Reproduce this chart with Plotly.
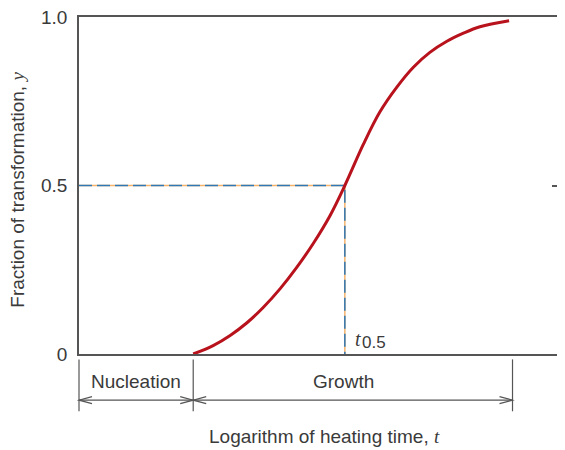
import plotly.graph_objects as go

# log heating time (arbitrary units) vs fraction transformed
log_t = [2.35, 2.76, 3.11, 3.45, 3.79, 4.14, 4.48, 4.82, 5.17, 5.47,
         5.85, 6.19, 6.54, 6.88, 7.22, 7.57, 7.91, 8.25, 8.85]
frac_y = [0.0, 0.025, 0.055, 0.092, 0.138, 0.194, 0.257, 0.328, 0.412, 0.5,
          0.622, 0.718, 0.792, 0.851, 0.895, 0.928, 0.952, 0.971, 0.989]

t_half = 5.47
nucleation_end = 2.35
growth_end = 8.92
x_max = 10.0

y_ticks = [0, 0.5, 1.0]
y_ticktext = ["0", "0.5", "1.0"]

FONT = "Liberation Sans"
SERIF = "Liberation Serif"
TXT = "#3a3a3a"
LINE = "#555555"
FS = 19

fig = go.Figure()

# guide lines to t0.5 (orange under blue dashes)
guide_x = [0, t_half, t_half]
guide_y = [0.5, 0.5, 0]
fig.add_trace(go.Scatter(x=guide_x, y=guide_y, mode="lines",
                         line=dict(color="#f6b36b", width=1.5),
                         hoverinfo="skip", showlegend=False))
fig.add_trace(go.Scatter(x=guide_x, y=guide_y, mode="lines",
                         line=dict(color="#2f78b4", width=1.5, dash="13px,5px"),
                         hoverinfo="skip", showlegend=False))

# transformation curve
fig.add_trace(go.Scatter(x=log_t, y=frac_y, mode="lines",
                         line=dict(color="#b8121c", width=3, shape="spline"),
                         showlegend=False))

# invisible trace for right-side tick axis
fig.add_trace(go.Scatter(x=[None], y=[None], yaxis="y2", showlegend=False))

# vertical marks below the axis
for xv in [0, nucleation_end, growth_end]:
    fig.add_shape(type="line", xref="paper", yref="paper",
                  x0=xv / x_max, x1=xv / x_max, y0=-0.016, y1=-0.17,
                  line=dict(color=LINE, width=1.2))

# double-headed arrows for the phases
arrow_y = -0.137
for a, b in [(0, nucleation_end), (nucleation_end, growth_end)]:
    fig.add_shape(type="line", xref="paper", yref="paper",
                  x0=a / x_max, x1=b / x_max, y0=arrow_y, y1=arrow_y,
                  line=dict(color=LINE, width=1.2))
    # open chevron heads
    fig.add_shape(type="path", xref="paper", yref="paper",
                  xsizemode="pixel", ysizemode="pixel",
                  xanchor=a / x_max, yanchor=arrow_y,
                  path="M 13,3.5 L 0,0 L 13,-3.5",
                  line=dict(color=LINE, width=1.2))
    fig.add_shape(type="path", xref="paper", yref="paper",
                  xsizemode="pixel", ysizemode="pixel",
                  xanchor=b / x_max, yanchor=arrow_y,
                  path="M -13,3.5 L 0,0 L -13,-3.5",
                  line=dict(color=LINE, width=1.2))

fig.add_annotation(x=nucleation_end / 2, y=-0.081, xref="x", yref="paper",
                   xanchor="center", yanchor="middle",
                   text="Nucleation", showarrow=False,
                   font=dict(family=FONT, size=FS, color=TXT))
fig.add_annotation(x=t_half - 0.02, y=-0.081, xref="x", yref="paper",
                   xanchor="center", yanchor="middle",
                   text="Growth", showarrow=False,
                   font=dict(family=FONT, size=FS, color=TXT))

# t0.5 label
fig.add_annotation(x=t_half + 0.28, y=0.046, xref="x", yref="y",
                   xanchor="center", yanchor="middle", showarrow=False,
                   text="<i>t</i>", font=dict(family=SERIF, size=20, color=TXT))
fig.add_annotation(x=t_half + 0.31, y=0.034, xref="x", yref="y",
                   xanchor="left", yanchor="middle", showarrow=False,
                   text="0.5", font=dict(family=FONT, size=17, color=TXT))

# axis titles
fig.add_annotation(x=5.06, y=-0.244, xref="x", yref="paper", showarrow=False,
                   xanchor="center", yanchor="middle",
                   text="Logarithm of heating time, <i><span style='font-family:Liberation Serif'>t</span></i>",
                   font=dict(family=FONT, size=FS, color=TXT))
fig.add_annotation(x=-0.126, y=0.487, xref="paper", yref="paper", showarrow=False,
                   xanchor="center", yanchor="middle", textangle=-90,
                   text="Fraction of transformation, <i><span style='font-family:Liberation Serif'>y</span></i>",
                   font=dict(family=FONT, size=FS, color=TXT))

fig.update_layout(
    width=557, height=442,
    margin=dict(l=71, r=0, t=9, b=96),
    plot_bgcolor="white", paper_bgcolor="white",
    font=dict(family=FONT, size=FS, color=TXT),
    xaxis=dict(range=[0, x_max], showgrid=False, zeroline=False,
               showline=True, mirror=True, linecolor=LINE, linewidth=1.5,
               showticklabels=False, ticks=""),
    yaxis=dict(range=[0, 1], showgrid=False, zeroline=False,
               showline=True, linecolor=LINE, linewidth=1.5,
               tickvals=y_ticks, ticktext=y_ticktext, ticks="",
               ticklabelstandoff=6, ticklabeloverflow="allow",
               tickfont=dict(family=FONT, size=FS, color=TXT)),
    yaxis2=dict(range=[0, 1], overlaying="y", side="right", anchor="x",
                showgrid=False, zeroline=False, showline=False,
                tickvals=[0.5], ticks="inside", ticklen=13, tickwidth=1.5,
                tickcolor=LINE, showticklabels=False),
)

fig.write_html("out.html")
